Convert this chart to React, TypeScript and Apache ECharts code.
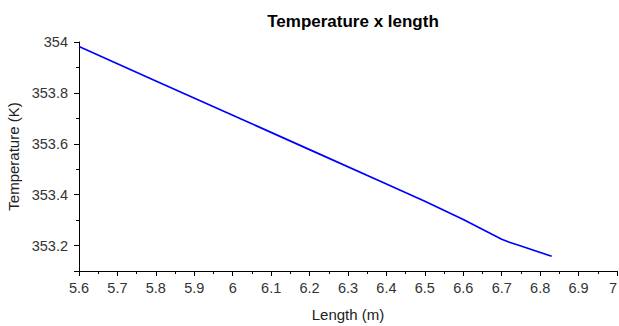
import React, { useEffect, useRef } from "react";
import * as echarts from "echarts";

const lengths = [5.6, 5.8, 6.0, 6.2, 6.4, 6.5, 6.6, 6.7, 6.72, 6.75, 6.83];
const temperatures = [353.982, 353.847, 353.712, 353.577, 353.442, 353.374, 353.302, 353.225, 353.213, 353.198, 353.158];

const FONT = "Liberation Sans, Arial, sans-serif";

export default function App() {
  const ref = useRef<HTMLDivElement>(null);
  useEffect(() => {
    if (!ref.current) return;
    const chart = echarts.init(ref.current, undefined, { renderer: "svg" });
    chart.setOption({
      animation: false,
      backgroundColor: "#ffffff",
      title: {
        text: "Temperature x length",
        left: 348,
        textAlign: "center",
        top: 8,
        textStyle: { fontFamily: FONT, fontSize: 17, fontWeight: "bold", color: "#000" },
      },
      grid: { left: 79, right: 2, top: 42, bottom: 55, outerBoundsMode: "none", containLabel: false },
      xAxis: {
        type: "value",
        min: 5.6,
        max: 7,
        interval: 0.1,
        name: "Length (m)",
        nameLocation: "middle",
        nameGap: 36,
        nameTextStyle: { fontFamily: FONT, fontSize: 15, color: "#222" },
        axisLine: { show: true, onZero: false, lineStyle: { color: "#000", width: 1 } },
        axisTick: { show: true, length: 5, lineStyle: { color: "#000" } },
        minorTick: { show: true, splitNumber: 2, length: 3, lineStyle: { color: "#000" } },
        splitLine: { show: false },
        axisLabel: {
          fontFamily: FONT,
          fontSize: 14.5,
          color: "#333",
          margin: 9,
          alignMaxLabel: "right",
          formatter: (v: number) => String(Math.round(v * 10) / 10),
        },
      },
      yAxis: {
        type: "value",
        min: 353.1,
        max: 354,
        splitNumber: 5,
        name: "Temperature (K)",
        nameLocation: "middle",
        nameGap: 58,
        nameTextStyle: { fontFamily: FONT, fontSize: 15, color: "#222" },
        axisLine: { show: true, onZero: false, lineStyle: { color: "#000", width: 1 } },
        axisTick: { show: true, length: 5, lineStyle: { color: "#000" } },
        minorTick: { show: true, splitNumber: 2, length: 3, lineStyle: { color: "#000" } },
        splitLine: { show: false },
        axisLabel: {
          fontFamily: FONT,
          fontSize: 14.5,
          color: "#333",
          margin: 11,
          showMinLabel: false,
          formatter: (v: number) => String(Math.round(v * 10) / 10),
        },
      },
      series: [
        {
          type: "line",
          data: lengths.map((x, i) => [x, temperatures[i]]),
          showSymbol: false,
          smooth: false,
          lineStyle: { color: "#0000ff", width: 1.7 },
          itemStyle: { color: "#0000ff" },
        },
      ],
    });
    return () => chart.dispose();
  }, []);
  return (
    <div
      ref={ref}
      style={{ position: "fixed", left: 0, top: 0, width: 619, height: 326 }}
    />
  );
}
